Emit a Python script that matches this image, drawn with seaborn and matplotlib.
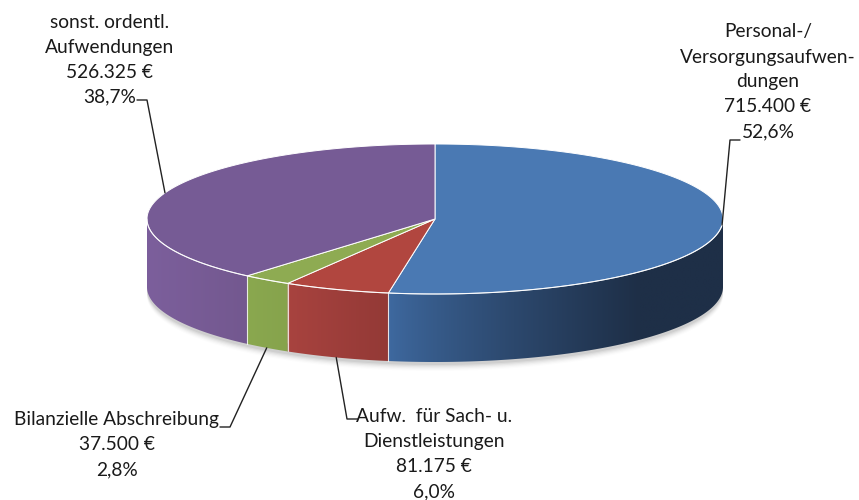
import matplotlib
matplotlib.use("Agg")
import matplotlib.pyplot as plt
import numpy as np
import seaborn as sns
from matplotlib.patches import Polygon
from matplotlib.colors import to_rgb

# --- data -----------------------------------------------------------------
names = [
    ["Personal-/", "Versorgungsaufwen-", "dungen"],
    ["Aufw.  für Sach- u.", "Dienstleistungen"],
    ["Bilanzielle Abschreibung"],
    ["sonst. ordentl.", "Aufwendungen"],
]
values = [715400, 81175, 37500, 526325]
top_colors = ["#4a79b3", "#b1463f", "#8eab52", "#765b95"]
side_colors = [("#3f6aa1", "#1e2f47"), ("#a8433f", "#933936"),
               ("#8aa84f", "#86a34c"), ("#7c5f9c", "#73588f")]

# --- geometry (pixel space) ----------------------------------------------
W, H = 859, 500
cx, cy, rx, ry, depth = 435, 219, 288, 75, 68

sns.set_theme(style="white")
plt.rcParams["font.family"] = ["Lato", "DejaVu Sans"]

fig = plt.figure(figsize=(W / 100, H / 100), dpi=100)
ax = fig.add_axes([0, 0, 1, 1])


def pt(theta, dy=0.0):
    return cx + rx * np.sin(theta), cy - ry * np.cos(theta) + dy


total = sum(values)
fracs = [v / total for v in values]
bounds = np.concatenate([[0], np.cumsum(fracs)]) * 2 * np.pi

# soft shadow under the pie
for k, a in enumerate(np.linspace(0.05, 0.012, 6)):
    th = np.linspace(np.pi / 2, 3 * np.pi / 2, 120)
    xs, ys = pt(th, depth + 3 + k * 1.2)
    xs2, ys2 = pt(th[::-1], depth - 8)
    ax.add_patch(Polygon(np.column_stack([np.r_[xs, xs2], np.r_[ys, ys2]]),
                         closed=True, facecolor="black", alpha=a, lw=0))

# side walls (front half only), horizontal gradient clipped to the wall
for i in range(len(values)):
    a0 = max(bounds[i], np.pi / 2)
    a1 = min(bounds[i + 1], 3 * np.pi / 2)
    if a1 <= a0:
        continue
    th = np.linspace(a0, a1, 200)
    xs, ys = pt(th)
    poly = np.column_stack([np.r_[xs, xs[::-1]], np.r_[ys, ys[::-1] + depth]])
    wall = Polygon(poly, closed=True, facecolor="none", lw=0)
    ax.add_patch(wall)
    xl, xr = xs.min(), xs.max()
    yt, yb = ys.min(), ys.max() + depth
    u = np.linspace(0, 1, 256)
    if i == 0:
        u = np.clip(u / 0.75, 0, 1) ** 0.8
    cl, cr = np.array(to_rgb(side_colors[i][0])), np.array(to_rgb(side_colors[i][1]))
    grad = (cl[None, :] * (1 - u[:, None]) + cr[None, :] * u[:, None])[None, :, :]
    im = ax.imshow(grad, extent=(xl - 1, xr + 1, yb + 1, yt - 1), aspect="auto",
                   interpolation="bilinear", zorder=1)
    im.set_clip_path(wall)

# vertical seams on the side
for b in bounds:
    if np.pi / 2 < b < 3 * np.pi / 2:
        x0, y0 = pt(b)
        ax.plot([x0, x0], [y0, y0 + depth], color="white", lw=0.8, alpha=0.8, zorder=2)

# top face wedges
for i in range(len(values)):
    th = np.linspace(bounds[i], bounds[i + 1], 200)
    xs, ys = pt(th)
    poly = np.column_stack([np.r_[cx, xs], np.r_[cy, ys]])
    ax.add_patch(Polygon(poly, closed=True, facecolor=top_colors[i],
                         edgecolor="white", lw=0.7, zorder=3))

# rim highlight between top and side
th = np.linspace(np.pi / 2, 3 * np.pi / 2, 200)
xs, ys = pt(th)
ax.plot(xs, ys, color="white", lw=0.8, alpha=0.7, zorder=4)

# --- labels ---------------------------------------------------------------
fs = 13.8
line_h = 25
label_pos = [(768, 32), (434, 417), (117, 420), (110, 22)]
for i in range(len(values)):
    euro = f"{values[i]:,}".replace(",", ".") + " €"
    pct = f"{fracs[i] * 100:.1f}".replace(".", ",") + "%"
    lines = names[i] + [euro, pct]
    x, y = label_pos[i]
    for k, s in enumerate(lines):
        ax.text(x, y + k * line_h, s, ha="center", va="center",
                fontsize=fs, color="#1a1a1a", zorder=5)

# leader lines: anchors at slice mid angle
mids = (bounds[:-1] + bounds[1:]) / 2
leaders = [
    [(740, 140), (730, 140)],
    [(358, 419), (347, 419)],
    [(220, 427), (230, 427)],
    [(137, 100), (147, 100)],
]
for i, seg in enumerate(leaders):
    front = i in (1, 2)
    ex, ey = pt(mids[i], depth if front else 0)
    ax.plot([seg[0][0], seg[1][0], ex], [seg[0][1], seg[1][1], ey],
            color="#222222", lw=1.0, zorder=5)

ax.set_xlim(0, W)
ax.set_ylim(H, 0)
ax.axis("off")

fig.savefig("out.png", dpi=100, facecolor="white")
